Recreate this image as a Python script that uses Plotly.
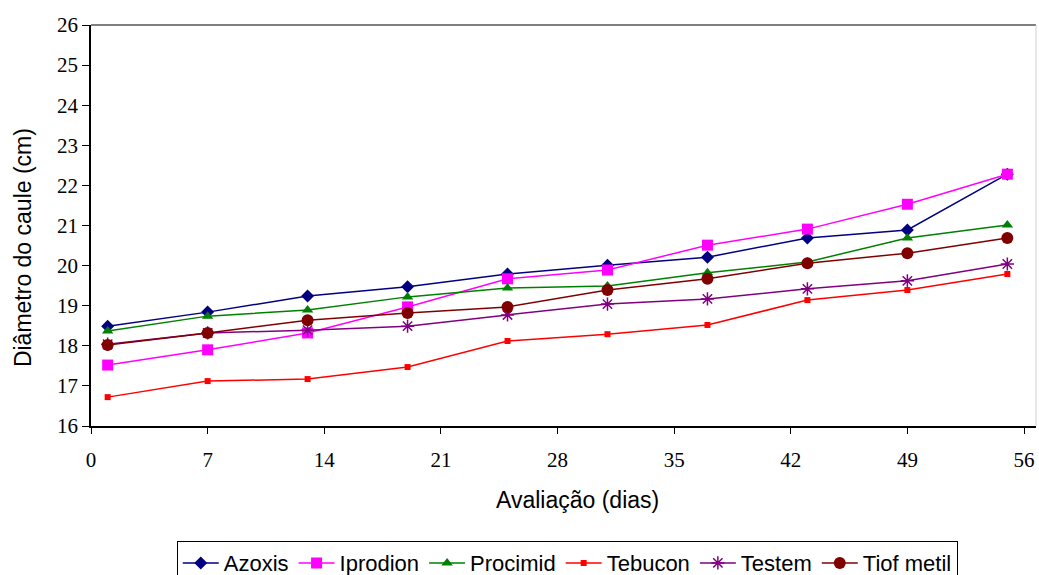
import plotly.graph_objects as go

days = [1, 7, 13, 19, 25, 31, 37, 43, 49, 55]
azoxis = [18.49, 18.84, 19.24, 19.47, 19.79, 20.01, 20.21, 20.69, 20.89, 22.28]
iprodion = [17.52, 17.90, 18.32, 18.97, 19.67, 19.89, 20.51, 20.91, 21.53, 22.28]
procimid = [18.37, 18.74, 18.89, 19.22, 19.44, 19.49, 19.82, 20.09, 20.69, 21.01]
tebucon = [16.72, 17.12, 17.17, 17.47, 18.12, 18.29, 18.52, 19.14, 19.39, 19.79]
testem = [18.04, 18.32, 18.39, 18.49, 18.77, 19.04, 19.17, 19.42, 19.62, 20.04]
tiof = [18.02, 18.32, 18.64, 18.82, 18.97, 19.39, 19.67, 20.06, 20.31, 20.69]

x_ticks = [0, 7, 14, 21, 28, 35, 42, 49, 56]
y_ticks = list(range(16, 27))

series = [
    ("Azoxis", azoxis, "#000080", "diamond", 10),
    ("Iprodion", iprodion, "#FF00FF", "square", 11),
    ("Procimid", procimid, "#008000", "triangle-up", 10),
    ("Tebucon", tebucon, "#FF0000", "square", 6),
    ("Testem", testem, "#800080", "asterisk-open", 11),
    ("Tiof metil", tiof, "#800000", "circle", 12),
]

SERIF = "Liberation Serif"
SANS = "Liberation Sans"

fig = go.Figure()
for name, vals, color, sym, size in series:
    fig.add_trace(go.Scatter(
        x=days, y=vals, name=name, mode="lines+markers",
        line=dict(color=color, width=1.5),
        marker=dict(symbol=sym, size=size, color=color,
                    line=dict(color=color, width=1.5 if sym == "asterisk-open" else 0)),
    ))

fig.update_layout(
    width=1039, height=575,
    margin=dict(l=91, r=3, t=25, b=149, autoexpand=False),
    paper_bgcolor="white", plot_bgcolor="white",
    showlegend=True,
    legend=dict(orientation="h", x=0.504, xanchor="center", y=-0.287, yanchor="top",
                bordercolor="black", borderwidth=1,
                font=dict(family=SANS, size=22, color="black"),
                itemwidth=36, tracegroupgap=0),
    xaxis=dict(range=[0, 56.72], tickvals=x_ticks, ticks="outside", ticklen=6,
               tickcolor="black", showline=True, linecolor="black", linewidth=1.5,
               mirror=False, showgrid=False, zeroline=False, ticklabelstandoff=8,
               tickfont=dict(family=SERIF, size=21, color="black")),
    yaxis=dict(range=[16, 26], tickvals=y_ticks, ticks="outside", ticklen=7,
               tickcolor="black", showline=True, linecolor="black", linewidth=1.5,
               showgrid=False, zeroline=False,
               tickfont=dict(family=SERIF, size=21, color="black")),
    annotations=[
        dict(text="Avaliação (dias)", xref="paper", yref="paper", x=0.515, y=-0.1845,
             xanchor="center", yanchor="middle", showarrow=False,
             font=dict(family=SANS, size=23, color="black")),
        dict(text="Diâmetro do caule (cm)", xref="paper", yref="paper", x=-0.072, y=0.446,
             xanchor="center", yanchor="middle", textangle=-90, showarrow=False,
             font=dict(family=SANS, size=23, color="black")),
    ],
    shapes=[
        dict(type="line", xref="paper", yref="paper", x0=0, x1=1, y0=1, y1=1,
             line=dict(color="black", width=1.2)),
        dict(type="line", xref="paper", yref="paper", x0=1, x1=1, y0=0, y1=1,
             line=dict(color="#d0d0d0", width=1)),
    ],
)

fig.write_html("out.html")
